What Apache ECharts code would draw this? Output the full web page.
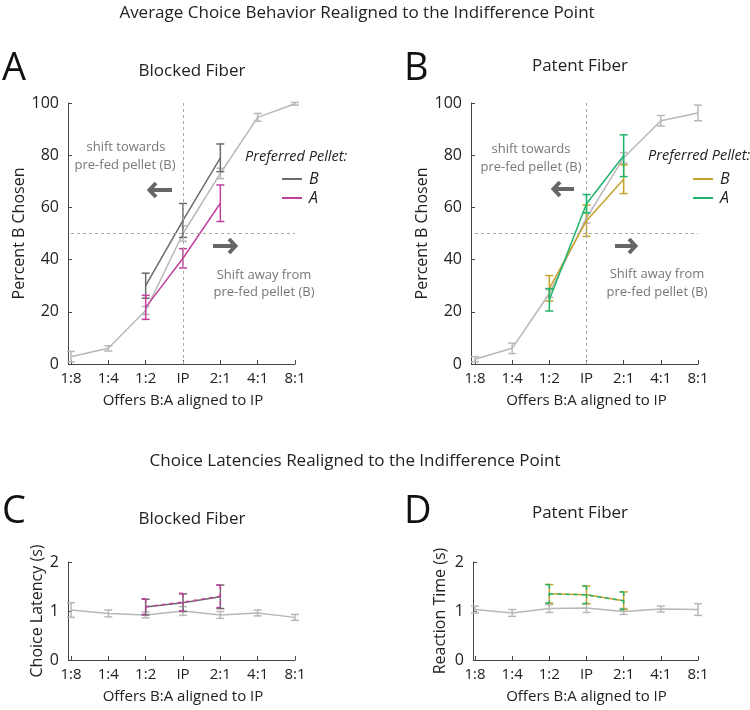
<!DOCTYPE html>
<html><head><meta charset="utf-8">
<script src="https://cdn.jsdelivr.net/npm/echarts@6/dist/echarts.min.js"></script>
<style>html,body{margin:0;padding:0;background:#fff}#c{width:750px;height:710px}</style>
</head><body><div id="c"></div>
<script>
// ---------- data ----------
const cats = ['1:8','1:4','1:2','IP','2:1','4:1','8:1'];
const pctTicks = [0, 20, 40, 60, 80, 100];
const latTicks = [0, 1, 2];

// Panel A: Blocked Fiber, percent B chosen
const blockedAll      = [2.8, 6, 20.5, 50, 73, 94.5, 99.7];
const blockedAllErr   = [2, 1, 1.5, 3, 2, 1.5, 0.5];
const blockedPrefB    = [null, null, 30, 55, 79, null, null];
const blockedPrefBErr = [null, null, 4.8, 6.5, 5.3, null, null];
const blockedPrefA    = [null, null, 21.7, 40.5, 61.6, null, null];
const blockedPrefAErr = [null, null, 4.6, 3.7, 7, null, null];

// Panel B: Patent Fiber, percent B chosen
const patentAll      = [1.8, 6, 27, 56, 79, 93.2, 96.2];
const patentAllErr   = [1, 2, 1.5, 2, 2, 2, 3];
const patentPrefB    = [null, null, 29, 54.9, 70.8, null, null];
const patentPrefBErr = [null, null, 4.9, 6, 5.5, null, null];
const patentPrefA    = [null, null, 24.6, 61.4, 79.8, null, null];
const patentPrefAErr = [null, null, 4.3, 3.5, 8, null, null];

// Panel C: Blocked Fiber, choice latency (s)
const latBlockedAll      = [1.02, 0.95, 0.92, 1.0, 0.92, 0.96, 0.87];
const latBlockedAllErr   = [0.15, 0.07, 0.06, 0.09, 0.07, 0.06, 0.06];
const latBlockedPrefB    = [null, null, 1.08, 1.17, 1.29, null, null];
const latBlockedPrefBErr = [null, null, 0.16, 0.18, 0.24, null, null];
const latBlockedPrefA    = [null, null, 1.09, 1.18, 1.30, null, null];
const latBlockedPrefAErr = [null, null, 0.16, 0.18, 0.23, null, null];

// Panel D: Patent Fiber, reaction time (s)
const latPatentAll      = [1.03, 0.96, 1.05, 1.06, 0.99, 1.04, 1.03];
const latPatentAllErr   = [0.07, 0.07, 0.08, 0.09, 0.06, 0.06, 0.12];
const latPatentPrefB    = [null, null, 1.35, 1.33, 1.21, null, null];
const latPatentPrefBErr = [null, null, 0.19, 0.18, 0.18, null, null];
const latPatentPrefA    = [null, null, 1.35, 1.33, 1.21, null, null];
const latPatentPrefAErr = [null, null, 0.19, 0.18, 0.18, null, null];

// ---------- styles ----------
const FONT = '"Open Sans", "Noto Sans", sans-serif';
const C_ALL = '#b8b8b8', C_DARK = '#6b6b6b', C_MAG = '#c2409e', C_GOLD = '#c6a22a', C_GREEN = '#1fb46a';
const REF = '#a8a8a8';

function errRender(color, dash) {
  return function (params, api) {
    const x = api.value(0), y = api.value(1), e = api.value(2);
    const p1 = api.coord([x, y + e]), p2 = api.coord([x, y - e]);
    const hw = 4;
    const st = {stroke: color, lineWidth: 1.5, lineDash: dash || null, fill: null};
    return {type: 'group', children: [
      {type: 'line', shape: {x1: p1[0], y1: p1[1], x2: p2[0], y2: p2[1]}, style: st},
      {type: 'line', shape: {x1: p1[0] - hw, y1: p1[1], x2: p1[0] + hw, y2: p1[1]}, style: st},
      {type: 'line', shape: {x1: p2[0] - hw, y1: p2[1], x2: p2[0] + hw, y2: p2[1]}, style: st}
    ]};
  };
}
function lineS(name, vals, g, color, dash, z, extra) {
  return Object.assign({
    type: 'line', name: name, xAxisIndex: g, yAxisIndex: g, data: vals, color: color,
    symbol: 'none', z: z, lineStyle: {color: color, width: 1.5, type: dash ? dash : 'solid'},
    emphasis: {disabled: true}, animation: false
  }, extra || {});
}
function errS(vals, errs, g, color, dash, z) {
  const d = [];
  vals.forEach((v, i) => { if (v != null) d.push([i, v, errs[i]]); });
  return {type: 'custom', xAxisIndex: g, yAxisIndex: g, data: d, z: z,
    renderItem: errRender(color, dash), animation: false, silent: true};
}
function refLines() {
  return {silent: true, symbol: 'none', label: {show: false}, animation: false,
    lineStyle: {color: REF, width: 1, type: [3, 3]},
    data: [{yAxis: 50}, {xAxis: cats[3]}]};
}

const grids = [
  {left: 71, top: 103, width: 224, height: 261},
  {left: 475, top: 103, width: 223, height: 261},
  {left: 71, top: 562, width: 224, height: 98},
  {left: 475, top: 562, width: 223, height: 98}
];
const yNames = ['Percent B Chosen', 'Percent B Chosen', 'Choice Latency (s)', 'Reaction Time (s)'];
const yGaps = [41, 38, 23, 25];
const yOffsets = [3, 4, 3, 2];

const xAxes = grids.map((g, i) => ({
  type: 'category', gridIndex: i, data: cats, boundaryGap: false,
  axisLine: {lineStyle: {color: '#444', width: 1}},
  axisTick: {show: true, inside: true, length: 4, alignWithLabel: true, lineStyle: {color: '#444'}},
  axisLabel: {color: '#222', fontSize: 15, fontFamily: FONT, margin: 7, interval: 0},
  splitLine: {show: false},
  name: 'Offers B:A aligned to IP', nameLocation: 'middle', nameGap: 29,
  nameTextStyle: {color: '#222', fontSize: 15, fontFamily: FONT}
}));
const yAxes = grids.map((g, i) => {
  const ticks = i < 2 ? pctTicks : latTicks;
  return {
    type: 'value', gridIndex: i, min: ticks[0], max: ticks[ticks.length - 1],
    interval: ticks[1] - ticks[0], offset: yOffsets[i],
    axisLine: {show: true, lineStyle: {color: '#444', width: 1}},
    axisTick: {show: true, inside: true, length: 4, lineStyle: {color: '#444'}},
    axisLabel: {color: '#222', fontSize: 16, fontFamily: FONT, margin: 9},
    splitLine: {show: false},
    name: yNames[i], nameLocation: 'middle', nameGap: yGaps[i], nameRotate: 90,
    nameTextStyle: {color: '#222', fontSize: 16, fontFamily: FONT}
  };
});

const series = [
  // Panel A
  lineS('blocked-all', blockedAll, 0, C_ALL, null, 2, {markLine: refLines()}),
  errS(blockedAll, blockedAllErr, 0, C_ALL, null, 2),
  lineS('Blocked: B', blockedPrefB, 0, C_DARK, null, 4),
  errS(blockedPrefB, blockedPrefBErr, 0, C_DARK, null, 4),
  lineS('Blocked: A', blockedPrefA, 0, C_MAG, null, 4),
  errS(blockedPrefA, blockedPrefAErr, 0, C_MAG, null, 4),
  // Panel B
  lineS('patent-all', patentAll, 1, C_ALL, null, 2, {markLine: refLines()}),
  errS(patentAll, patentAllErr, 1, C_ALL, null, 2),
  lineS('Patent: B', patentPrefB, 1, C_GOLD, null, 4),
  errS(patentPrefB, patentPrefBErr, 1, C_GOLD, null, 4),
  lineS('Patent: A', patentPrefA, 1, C_GREEN, null, 5),
  errS(patentPrefA, patentPrefAErr, 1, C_GREEN, null, 5),
  // Panel C
  lineS('lat-blocked-all', latBlockedAll, 2, C_ALL, null, 2),
  errS(latBlockedAll, latBlockedAllErr, 2, C_ALL, null, 2),
  lineS('lat-blocked-B', latBlockedPrefB, 2, C_DARK, null, 4),
  errS(latBlockedPrefB, latBlockedPrefBErr, 2, C_DARK, null, 4),
  lineS('lat-blocked-A', latBlockedPrefA, 2, C_MAG, [4, 4], 5),
  errS(latBlockedPrefA, latBlockedPrefAErr, 2, C_MAG, [4, 4], 5),
  // Panel D
  lineS('lat-patent-all', latPatentAll, 3, C_ALL, null, 2),
  errS(latPatentAll, latPatentAllErr, 3, C_ALL, null, 2),
  lineS('lat-patent-B', latPatentPrefB, 3, C_GOLD, null, 4),
  errS(latPatentPrefB, latPatentPrefBErr, 3, C_GOLD, null, 4),
  lineS('lat-patent-A', latPatentPrefA, 3, C_GREEN, [4, 4], 5),
  errS(latPatentPrefA, latPatentPrefAErr, 3, C_GREEN, [4, 4], 5)
];

function txt(text, x, y, size, color, opts) {
  opts = opts || {};
  return {type: 'text', x: x, y: y, silent: true, z: 10, style: {
    text: text, fill: color, fontSize: size, fontFamily: FONT,
    fontStyle: opts.italic ? 'italic' : 'normal', fontWeight: 'normal',
    align: opts.align || 'center', verticalAlign: 'middle'
  }};
}
function arrow(xHead, xTail, y) {
  const dir = xTail > xHead ? 1 : -1;
  const st = {stroke: '#666', lineWidth: 4, fill: null, lineJoin: 'miter', lineCap: 'butt'};
  return {type: 'group', silent: true, z: 10, children: [
    {type: 'line', shape: {x1: xHead + dir * 2, y1: y, x2: xTail, y2: y}, style: st},
    {type: 'polyline', shape: {points: [[xHead + dir * 8, y - 7], [xHead + dir * 1.5, y], [xHead + dir * 8, y + 7]]}, style: st}
  ]};
}
const ANN = '#777';
const graphics = [
  txt('Average Choice Behavior Realigned to the Indifference Point', 357, 13, 17, '#222'),
  txt('Choice Latencies Realigned to the Indifference Point', 355, 461, 17, '#222'),
  txt('A', 2, 69, 38, '#111', {align: 'left'}),
  txt('B', 404, 69, 38, '#111', {align: 'left'}),
  txt('C', 2, 512, 38, '#111', {align: 'left'}),
  txt('D', 404, 512, 38, '#111', {align: 'left'}),
  txt('Blocked Fiber', 192, 71, 17, '#222'),
  txt('Patent Fiber', 580, 66, 17, '#222'),
  txt('Blocked Fiber', 192, 519, 17, '#222'),
  txt('Patent Fiber', 580, 513, 17, '#222'),
  // annotations panel A
  txt('shift towards', 126, 147, 13, ANN),
  txt('pre-fed pellet (B)', 125, 165, 13, ANN),
  txt('Shift away from', 264, 275, 13, ANN),
  txt('pre-fed pellet (B)', 264, 292, 13, ANN),
  txt('Preferred Pellet:', 245, 157, 14.5, '#222', {italic: true, align: 'left'}),
  arrow(148, 172, 190),
  arrow(237, 213, 246),
  // annotations panel B
  txt('shift towards', 531, 149, 13, ANN),
  txt('pre-fed pellet (B)', 531, 167, 13, ANN),
  txt('Shift away from', 657, 274, 13, ANN),
  txt('pre-fed pellet (B)', 657, 292, 13, ANN),
  txt('Preferred Pellet:', 648, 156, 14.5, '#222', {italic: true, align: 'left'}),
  arrow(552, 574, 189),
  arrow(637, 615, 246)
];

function legendAt(left, top, names) {
  return {orient: 'vertical', left: left, top: top, data: names, icon: 'rect',
    itemWidth: 20, itemHeight: 2, itemGap: 3, selectedMode: false, padding: 0,
    formatter: n => n.split(': ')[1],
    textStyle: {fontSize: 16, fontStyle: 'italic', color: '#222', fontFamily: FONT, padding: [0, 0, 0, 2]}};
}

const chart = echarts.init(document.getElementById('c'), null, {renderer: 'canvas'});
chart.setOption({
  backgroundColor: '#fff',
  animation: false,
  grid: grids,
  xAxis: xAxes,
  yAxis: yAxes,
  legend: [legendAt(282, 171, ['Blocked: B', 'Blocked: A']), legendAt(693, 171, ['Patent: B', 'Patent: A'])],
  series: series,
  graphic: graphics
});
</script>
</body></html>
